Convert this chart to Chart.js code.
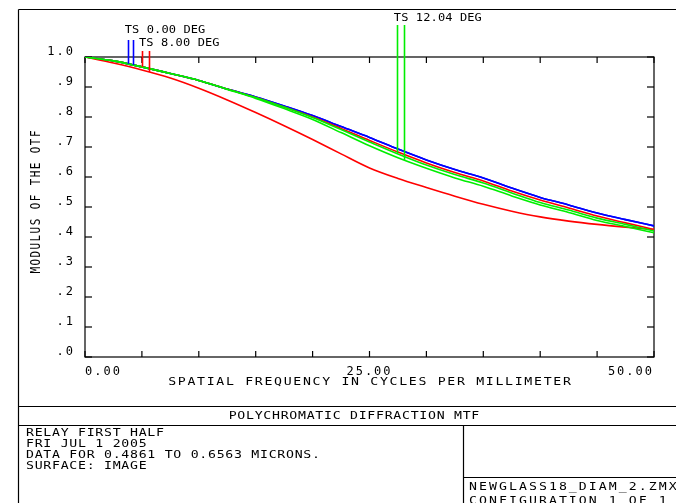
<!DOCTYPE html>
<html><head><meta charset="utf-8">
<script src="https://cdn.jsdelivr.net/npm/chart.js@4/dist/chart.umd.min.js"></script>
<style>html,body{margin:0;padding:0;background:#fff;overflow:hidden}canvas{display:block}</style>
</head><body>
<canvas id="c" width="676" height="503"></canvas>
<script>
// Spatial frequency (cycles/mm)
const frequencies = [0,2.5,5,7.5,10,12.5,15,17.5,20,22.5,25,27.5,30,32.5,35,37.5,40,42.5,45,47.5,50];
// Field 0.00 deg (blue), tangential & sagittal
const blueT = [1.000,0.987,0.967,0.945,0.922,0.893,0.867,0.837,0.805,0.768,0.732,0.693,0.657,0.625,0.597,0.563,0.532,0.507,0.480,0.458,0.437];
const blueS = [1.000,0.987,0.967,0.945,0.922,0.893,0.867,0.837,0.805,0.768,0.732,0.693,0.657,0.625,0.597,0.563,0.532,0.507,0.480,0.458,0.437];
// Field 8.00 deg (red)
const redT  = [1.000,0.980,0.957,0.930,0.896,0.857,0.815,0.771,0.725,0.677,0.630,0.595,0.565,0.536,0.509,0.486,0.467,0.453,0.442,0.433,0.425];
const redS  = [1.000,0.987,0.967,0.945,0.922,0.893,0.865,0.833,0.800,0.762,0.722,0.683,0.647,0.615,0.587,0.553,0.523,0.497,0.470,0.447,0.425];
// Field 12.04 deg (green)
const greenT = [1.000,0.987,0.967,0.945,0.922,0.892,0.862,0.828,0.792,0.748,0.704,0.664,0.629,0.597,0.569,0.537,0.507,0.482,0.455,0.435,0.414];
const greenS = [1.000,0.987,0.967,0.945,0.922,0.893,0.865,0.833,0.798,0.758,0.717,0.677,0.640,0.608,0.580,0.547,0.515,0.490,0.463,0.442,0.420];

const yTickLabels = ['.0','.1','.2','.3','.4','.5','.6','.7','.8','.9','1.0'];
const xLabelValues = [0,25,50];
const xLabelTexts = ['0.00','25.00','50.00'];
const xTitle = 'SPATIAL FREQUENCY IN CYCLES PER MILLIMETER';
const yTitle = 'MODULUS OF THE OTF';
const fieldLabels = ['TS 0.00 DEG','TS 8.00 DEG','TS 12.04 DEG'];
const markerFreqs = [[3.75,4.25],[5.0,5.65],[27.4,28.0]];
const plotTitle = 'POLYCHROMATIC DIFFRACTION MTF';
const infoLines = ['RELAY FIRST HALF','FRI JUL 1 2005','DATA FOR 0.4861 TO 0.6563 MICRONS.','SURFACE: IMAGE'];
const fileLines = ['NEWGLASS18_DIAM_2.ZMX','CONFIGURATION 1 OF 1'];

const BLUE = '#0000ff', RED = '#ff0000', GREEN = '#00ee00';
const fieldSeries = [[blueT, blueS],[redS, redT],[greenS, greenT]];
const fieldColors = [BLUE, RED, GREEN];

const pts = arr => frequencies.map((f,i)=>({x:f, y:arr[i]}));
function interp(arr, f){
  for (let i=0;i<frequencies.length-1;i++){
    if (f>=frequencies[i] && f<=frequencies[i+1]){
      const t=(f-frequencies[i])/(frequencies[i+1]-frequencies[i]);
      return arr[i]+(arr[i+1]-arr[i])*t;
    }
  }
  return arr[arr.length-1];
}
const FONT = '"DejaVu Sans Mono", "Liberation Mono", monospace';
function txt(ctx, s, x, y, o){
  o = o||{};
  const size=o.size||11, sp=o.spacing!=null?o.spacing:1.4, sx=o.sx||1.2;
  ctx.save();
  ctx.font = size+'px '+FONT;
  ctx.letterSpacing = sp+'px';
  ctx.fillStyle='#000';
  ctx.textBaseline='middle';
  ctx.textAlign='left';
  ctx.translate(x,y);
  if (o.rot){
    const w = ctx.measureText(s).width - sp;
    ctx.rotate(o.rot);
    ctx.translate(o.align==='center' ? -w/2 : 0, 0);
    ctx.scale(1,sx);
  } else {
    const w = (ctx.measureText(s).width - sp)*sx;
    ctx.translate(o.align==='center' ? -w/2 : (o.align==='right' ? -w : 0), 0);
    ctx.scale(sx,1);
  }
  ctx.fillText(s,0,0);
  ctx.restore();
}
function seg(ctx,x1,y1,x2,y2){ctx.beginPath();ctx.moveTo(x1,y1);ctx.lineTo(x2,y2);ctx.stroke();}

const decor = {
  id:'decor',
  beforeDraw(chart){ chart.ctx.letterSpacing='2px'; },
  beforeDatasetsDraw(chart){
    const ctx=chart.ctx, a=chart.chartArea, xs=chart.scales.x, ys=chart.scales.y;
    ctx.save();
    ctx.strokeStyle='#000'; ctx.lineWidth=1.2;
    // outer frame
    seg(ctx,18.5,9.5,676,9.5); seg(ctx,18.5,9.5,18.5,503);
    // plot box
    ctx.strokeRect(a.left,a.top,a.right-a.left,a.bottom-a.top);
    xs.ticks.forEach(t=>{const x=xs.getPixelForValue(t.value); seg(ctx,x,a.bottom,x,a.bottom-6); seg(ctx,x,a.top,x,a.top+6);});
    ys.ticks.forEach(t=>{const y=ys.getPixelForValue(t.value); seg(ctx,a.left,y,a.left+7,y); seg(ctx,a.right,y,a.right-7,y);});
    // title block lines
    seg(ctx,18.5,406.5,676,406.5);
    seg(ctx,18.5,425.5,676,425.5);
    seg(ctx,463.5,425.5,463.5,503);
    seg(ctx,463.5,477.5,676,477.5);
    ctx.restore();
    // texts
    txt(ctx,xTitle,(a.left+a.right)/2,382,{align:'center'});
    txt(ctx,yTitle,37,202,{align:'center',rot:-Math.PI/2});
    txt(ctx,plotTitle,354,416,{align:'center',spacing:0.6});
    infoLines.forEach((s,i)=>txt(ctx,s,26,433+i*11,{spacing:0.6}));
    fileLines.forEach((s,i)=>txt(ctx,s,469,487+i*14,{spacing:1.7}));
  },
  afterDatasetsDraw(chart){
    const ctx=chart.ctx, xs=chart.scales.x, ys=chart.scales.y;
    const topY=[40,51,25], labY=[30,43,18];
    ctx.save(); ctx.lineWidth=1.6;
    markerFreqs.forEach((fs,k)=>{
      ctx.strokeStyle=fieldColors[k];
      fs.forEach((f,j)=>{
        const x=Math.round(xs.getPixelForValue(f))+0.5;
        const y=ys.getPixelForValue(interp(fieldSeries[k][j],f));
        seg(ctx,x,topY[k],x,y);
      });
    });
    ctx.restore();
    markerFreqs.forEach((fs,k)=>{
      const x=xs.getPixelForValue(fs[0])-3;
      txt(ctx,fieldLabels[k],x,labY[k],{size:10,spacing:0.1});
    });
  }
};

const ds = (label,arr,color,order)=>({label,data:pts(arr),borderColor:color,backgroundColor:color,order,
  borderWidth:1.6,pointRadius:0,fill:false,cubicInterpolationMode:'monotone'});

new Chart(document.getElementById('c'),{
  type:'line',
  data:{datasets:[
    ds('12.04 T',greenT,GREEN,0), ds('12.04 S',greenS,GREEN,0),
    ds('8.00 T',redT,RED,1), ds('8.00 S',redS,RED,1),
    ds('0.00 T',blueT,BLUE,2), ds('0.00 S',blueS,BLUE,2)
  ]},
  options:{
    responsive:false, animation:false, devicePixelRatio:1,
    layout:{padding:{left:0,top:57,right:22,bottom:0}},
    plugins:{legend:{display:false},tooltip:{enabled:false},title:{display:false}},
    scales:{
      x:{type:'linear',min:0,max:50,
        grid:{display:false,drawTicks:false},border:{display:false},
        ticks:{stepSize:5,autoSkip:false,maxRotation:0,align:'inner',padding:8,color:'#000',
          font:{family:'DejaVu Sans Mono',size:12},
          callback:v=>{const i=xLabelValues.indexOf(v);return i>=0?xLabelTexts[i]:'';}},
        afterFit:s=>{s.height=146;}},
      y:{type:'linear',min:0,max:1,
        grid:{display:false,drawTicks:false},border:{display:false},
        ticks:{stepSize:0.1,autoSkip:false,padding:10,labelOffset:-5,color:'#000',
          font:{family:'DejaVu Sans Mono',size:12},
          callback:(v,i)=>yTickLabels[i]},
        afterFit:s=>{s.width=85;}}
    }
  },
  plugins:[decor]
});
</script>
</body></html>
